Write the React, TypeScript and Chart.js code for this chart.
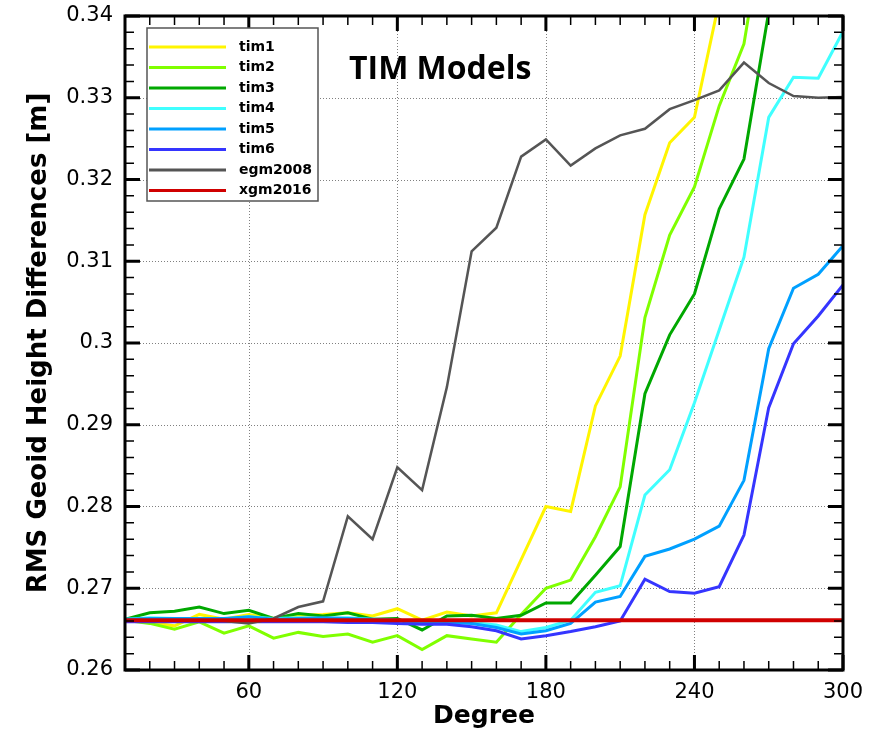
import React, { useEffect, useRef } from "react";
import { Chart, registerables } from "chart.js";

Chart.register(...registerables);

// ---------------- data ----------------
const degrees = [10, 20, 30, 40, 50, 60, 70, 80, 90, 100, 110, 120, 130, 140, 150, 160, 170, 180, 190, 200, 210, 220, 230, 240, 250, 260, 270, 280, 290, 300];

const tim1 = [0.2661, 0.2658, 0.2654, 0.2668, 0.2662, 0.2668, 0.2663, 0.2667, 0.2668, 0.2670, 0.2666, 0.2675, 0.2661, 0.2671, 0.2666, 0.2670, 0.2735, 0.2800, 0.2794, 0.2923, 0.2984, 0.3157, 0.3245, 0.3276, 0.3418, null, null, null, null, null];
const tim2 = [0.2661, 0.2657, 0.2650, 0.2659, 0.2645, 0.2654, 0.2639, 0.2646, 0.2641, 0.2644, 0.2634, 0.2642, 0.2625, 0.2642, 0.2638, 0.2634, 0.2668, 0.2700, 0.2710, 0.2763, 0.2824, 0.3031, 0.3132, 0.3191, 0.3290, 0.3366, 0.3550, null, null, null];
const tim3 = [0.2662, 0.2670, 0.2672, 0.2677, 0.2669, 0.2673, 0.2663, 0.2669, 0.2666, 0.2670, 0.2662, 0.2663, 0.2649, 0.2666, 0.2667, 0.2663, 0.2667, 0.2682, 0.2682, 0.2716, 0.2751, 0.2938, 0.3010, 0.3060, 0.3164, 0.3225, 0.3405, null, null, null];
const tim4 = [0.2662, 0.2664, 0.2663, 0.2663, 0.2662, 0.2665, 0.2663, 0.2664, 0.2663, 0.2664, 0.2662, 0.2661, 0.2658, 0.2660, 0.2658, 0.2655, 0.2647, 0.2652, 0.2661, 0.2695, 0.2703, 0.2814, 0.2845, 0.2927, 0.3016, 0.3105, 0.3276, 0.3325, 0.3324, 0.3381];
const tim5 = [0.2662, 0.2663, 0.2663, 0.2663, 0.2663, 0.2665, 0.2662, 0.2663, 0.2664, 0.2663, 0.2662, 0.2661, 0.2657, 0.2658, 0.2657, 0.2652, 0.2644, 0.2648, 0.2657, 0.2683, 0.2690, 0.2739, 0.2748, 0.2760, 0.2776, 0.2832, 0.2993, 0.3067, 0.3084, 0.3119];
const tim6 = [0.2659, 0.2659, 0.2659, 0.2659, 0.2659, 0.2659, 0.2659, 0.2659, 0.2659, 0.2658, 0.2658, 0.2657, 0.2656, 0.2656, 0.2653, 0.2648, 0.2638, 0.2642, 0.2647, 0.2653, 0.2660, 0.2711, 0.2696, 0.2694, 0.2702, 0.2765, 0.2921, 0.2999, 0.3033, 0.3071];
const egm2008 = [0.2661, 0.2661, 0.2661, 0.2661, 0.2660, 0.2657, 0.2663, 0.2677, 0.2684, 0.2788, 0.2760, 0.2848, 0.2820, 0.2946, 0.3112, 0.3141, 0.3228, 0.3249, 0.3217, 0.3238, 0.3254, 0.3262, 0.3286, 0.3297, 0.3309, 0.3343, 0.3318, 0.3302, 0.3300, 0.3301];
const xgm2016 = [0.2661, 0.2661, 0.2661, 0.2661, 0.2661, 0.2661, 0.2661, 0.2661, 0.2661, 0.2661, 0.2661, 0.2661, 0.2661, 0.2661, 0.2661, 0.2661, 0.2661, 0.2661, 0.2661, 0.2661, 0.2661, 0.2661, 0.2661, 0.2661, 0.2661, 0.2661, 0.2661, 0.2661, 0.2661, 0.2661];

const seriesNames = ["tim1", "tim2", "tim3", "tim4", "tim5", "tim6", "egm2008", "xgm2016"];
const seriesValues = [tim1, tim2, tim3, tim4, tim5, tim6, egm2008, xgm2016];
const seriesColors = ["#FFF500", "#80FF00", "#00A800", "#40FFFF", "#00A0FF", "#3535FF", "#555555", "#D00000"];
const seriesWidths = [3, 3, 3, 3, 3, 3, 2.5, 4];

const xTickValues = [60, 120, 180, 240, 300];
const yTickValues = [0.26, 0.27, 0.28, 0.29, 0.3, 0.31, 0.32, 0.33, 0.34];
const yTickLabels = ["0.26", "0.27", "0.28", "0.29", "0.3", "0.31", "0.32", "0.33", "0.34"];

const chartTitle = "TIM Models";
const xTitle = "Degree";
const yTitle = "RMS Geoid Height Differences [m]";

// ---------------- decorations ----------------
const decorPlugin = {
  id: "decor",
  beforeDatasetsDraw(chart: any) {
    const { ctx, chartArea: a, scales } = chart;
    const xs = scales.x, ys = scales.y;
    ctx.save();
    ctx.strokeStyle = "#808080";
    ctx.lineWidth = 1;
    ctx.setLineDash([1, 2]);
    for (const v of xTickValues) {
      if (v <= xs.min || v >= xs.max) continue;
      const px = Math.round(xs.getPixelForValue(v)) + 0.5;
      ctx.beginPath(); ctx.moveTo(px, a.top); ctx.lineTo(px, a.bottom); ctx.stroke();
    }
    for (const v of yTickValues) {
      if (v <= ys.min + 1e-9 || v >= ys.max - 1e-9) continue;
      const py = Math.round(ys.getPixelForValue(v)) + 0.5;
      ctx.beginPath(); ctx.moveTo(a.left, py); ctx.lineTo(a.right, py); ctx.stroke();
    }
    ctx.restore();
  },
  afterDatasetsDraw(chart: any) {
    const { ctx, chartArea: a, scales } = chart;
    const xs = scales.x, ys = scales.y;
    ctx.save();
    ctx.strokeStyle = "#000";
    // minor ticks
    ctx.lineWidth = 1.5;
    const minorLen = 9, majorLen = 15;
    for (let v = xs.min + 10; v < xs.max; v += 10) {
      const px = xs.getPixelForValue(v);
      ctx.beginPath();
      ctx.moveTo(px, a.bottom); ctx.lineTo(px, a.bottom - minorLen);
      ctx.moveTo(px, a.top); ctx.lineTo(px, a.top + minorLen);
      ctx.stroke();
    }
    for (let k = 1; k < 40; k++) {
      const v = ys.min + k * 0.002;
      const py = ys.getPixelForValue(v);
      ctx.beginPath();
      ctx.moveTo(a.left, py); ctx.lineTo(a.left + minorLen, py);
      ctx.moveTo(a.right, py); ctx.lineTo(a.right - minorLen, py);
      ctx.stroke();
    }
    // major ticks
    ctx.lineWidth = 3;
    for (const v of xTickValues) {
      const px = xs.getPixelForValue(v);
      ctx.beginPath();
      ctx.moveTo(px, a.bottom); ctx.lineTo(px, a.bottom - majorLen);
      ctx.moveTo(px, a.top); ctx.lineTo(px, a.top + majorLen);
      ctx.stroke();
    }
    for (const v of yTickValues) {
      const py = ys.getPixelForValue(v);
      ctx.beginPath();
      ctx.moveTo(a.left, py); ctx.lineTo(a.left + majorLen, py);
      ctx.moveTo(a.right, py); ctx.lineTo(a.right - majorLen, py);
      ctx.stroke();
    }
    // frame
    ctx.lineWidth = 3;
    ctx.strokeRect(a.left, a.top, a.right - a.left, a.bottom - a.top);

    // legend box
    const lx = 147, ly = 28, lw = 171, lh = 173;
    ctx.fillStyle = "#fff";
    ctx.fillRect(lx, ly, lw, lh);
    ctx.strokeStyle = "#555";
    ctx.lineWidth = 1.5;
    ctx.strokeRect(lx, ly, lw, lh);
    ctx.font = "bold 14px 'DejaVu Sans'";
    ctx.textBaseline = "middle";
    ctx.textAlign = "left";
    for (let i = 0; i < seriesNames.length; i++) {
      const ry = 47 + i * 20.5;
      ctx.strokeStyle = seriesColors[i];
      ctx.lineWidth = 3;
      ctx.beginPath(); ctx.moveTo(149, ry); ctx.lineTo(226, ry); ctx.stroke();
      ctx.fillStyle = "#000";
      ctx.fillText(seriesNames[i], 239, ry);
    }

    // inner title
    ctx.font = "bold 32px 'Open Sans'";
    ctx.textBaseline = "alphabetic";
    ctx.fillStyle = "#000";
    ctx.fillText(chartTitle, 349, 79);
    ctx.restore();
  },
};

export default function App() {
  const ref = useRef<HTMLCanvasElement | null>(null);
  useEffect(() => {
    if (!ref.current) return;
    const datasets = seriesNames.map((name, i) => ({
      label: name,
      data: seriesValues[i].map((v, j) => ({ x: degrees[j], y: v })),
      borderColor: seriesColors[i],
      backgroundColor: seriesColors[i],
      borderWidth: seriesWidths[i],
      pointRadius: 0,
      tension: 0,
      fill: false,
      spanGaps: false,
      order: seriesNames.length - 1 - i,
    }));
    const chart = new Chart(ref.current, {
      type: "line",
      data: { datasets },
      options: {
        animation: false,
        responsive: false,
        maintainAspectRatio: false,
        devicePixelRatio: 1,
        layout: { padding: { top: 16, right: 28, left: 0, bottom: 0 } },
        plugins: { legend: { display: false }, tooltip: { enabled: false }, title: { display: false } },
        scales: {
          x: {
            type: "linear",
            min: 10,
            max: 300,
            afterBuildTicks: (s: any) => { s.ticks = xTickValues.map((v) => ({ value: v })); },
            afterFit: (s: any) => { s.height = 61; s.paddingLeft = 0; s.paddingRight = 0; },
            grid: { display: false, drawTicks: false },
            border: { display: false },
            ticks: {
              autoSkip: false, maxRotation: 0, padding: 10, color: "#000",
              font: { family: "'DejaVu Sans'", size: 21 },
              callback: (v: any) => String(v),
            },
            title: { display: true, text: xTitle, color: "#000", padding: 0, font: { family: "'DejaVu Sans'", size: 25, weight: "bold" } },
          },
          y: {
            type: "linear",
            min: 0.26,
            max: 0.34,
            afterBuildTicks: (s: any) => { s.ticks = yTickValues.map((v) => ({ value: v })); },
            afterFit: (s: any) => { s.width = 125; s.paddingTop = 0; s.paddingBottom = 0; },
            grid: { display: false, drawTicks: false },
            border: { display: false },
            ticks: {
              autoSkip: false, padding: 12, color: "#000",
              font: { family: "'DejaVu Sans'", size: 21 },
              callback: (v: any) => {
                const k = yTickValues.findIndex((t) => Math.abs(t - v) < 1e-9);
                return k >= 0 ? yTickLabels[k] : "";
              },
            },
            title: { display: true, text: yTitle, color: "#000", padding: 24, font: { family: "'DejaVu Sans'", size: 26, weight: "bold" } },
          },
        },
      },
      plugins: [decorPlugin],
    } as any);
    return () => chart.destroy();
  }, []);
  return (
    <div style={{ position: "absolute", left: 0, top: 0, width: 871, height: 731, background: "#fff" }}>
      <canvas ref={ref} width={871} height={731} style={{ width: 871, height: 731, display: "block" }} />
    </div>
  );
}
